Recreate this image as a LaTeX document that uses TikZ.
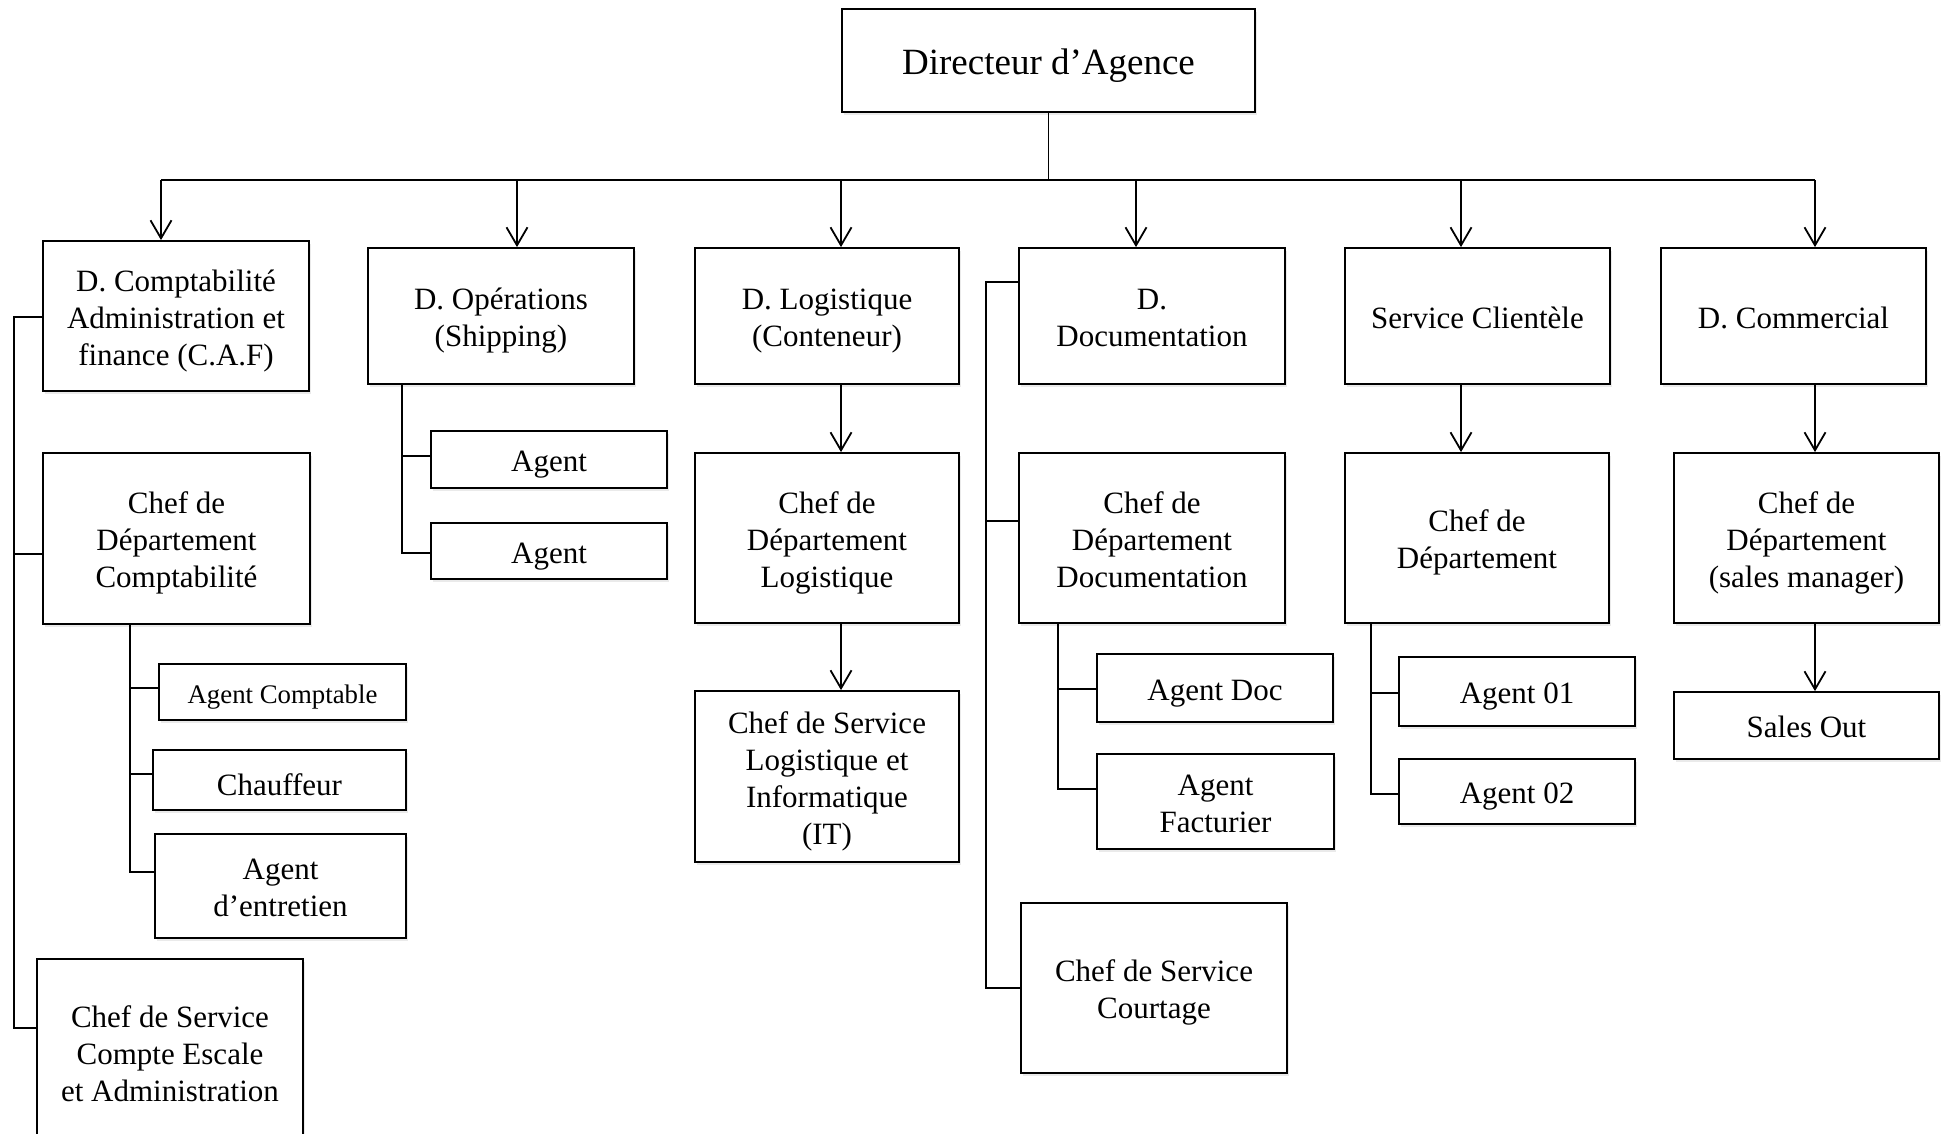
\documentclass[tikz,border=0pt]{standalone}
\usepackage{fontspec}
\setmainfont{Liberation Serif}
\usetikzlibrary{arrows.meta,shadows}
% invisible rules with the font's ascent (plus some lift) and descent, for vertical centring
\newcommand\topstrut[1]{\rule[-0.216em]{0pt}{\dimexpr1.107em+#1\relax}}
\newcommand\botstrut{\rule[-0.216em]{0pt}{1.107em}}
% taller first line for stacked labels
\newcommand\lift{\rule{0pt}{15.7pt}}

\begin{document}
\begin{tikzpicture}[x=0.5pt,y=-0.5pt,
  box/.style={draw, line width=0.9pt, fill=white, inner sep=0pt, align=center,
    font=\fontsize{15.5}{18.5}\selectfont,
    execute at begin node={\topstrut{2pt}}, execute at end node=\botstrut,
    drop shadow={shadow xshift=0.8pt, shadow yshift=-1.3pt, fill=black!16}},
  low/.style={execute at begin node={\topstrut{5pt}}},
  % place a box by its corners (x1,y1) and (x2,y2)
  span/.style n args={4}{at={({(#1+#3)/2},{(#2+#4)/2})},
    minimum width={(#3-#1)*0.5pt}, minimum height={(#4-#2)*0.5pt}},
  link/.style={line width=0.9pt},
  arr/.style={link, -{Straight Barb[length=9pt, width=10.5pt, line width=0.9pt]}}]

\useasboundingbox (0,0) rectangle (1945,1134);
\clip (0,0) rectangle (1945,1134);

% top of the chart
\node[box, span={842}{9}{1255}{112}, font=\fontsize{18.5}{22}\selectfont] (dir) {Directeur d’Agence};

% departments
\node[box, span={43}{241}{309}{391}]    (caf) {\lift D. Comptabilité\\Administration et\\finance (C.A.F)};
\node[box, span={368}{248}{634}{384}]   (ops) {\lift D. Opérations\\(Shipping)};
\node[box, span={695}{248}{959}{384}]   (log) {\lift D. Logistique\\(Conteneur)};
\node[box, span={1019}{248}{1285}{384}] (doc) {\lift D.\\Documentation};
\node[box, span={1345}{248}{1610}{384}] (sc)  {Service Clientèle};
\node[box, span={1661}{248}{1926}{384}] (com) {D. Commercial};

% heads of department
\node[box, span={43}{453}{310}{624}]    (cdc) {\lift Chef de\\Département\\Comptabilité};
\node[box, span={695}{453}{959}{623}]   (cdl) {\lift Chef de\\Département\\Logistique};
\node[box, span={1019}{453}{1285}{623}] (cdd) {\lift Chef de\\Département\\Documentation};
\node[box, span={1345}{453}{1609}{623}] (cds) {\lift Chef de\\Département};
\node[box, span={1674}{453}{1939}{623}] (cdm) {\lift Chef de\\Département\\(sales manager)};

% staff
\node[box, span={431}{431}{667}{488}]   (ag1) {Agent};
\node[box, span={431}{523}{667}{579}]   (ag2) {Agent};
\node[box, span={159}{664}{406}{720}, font=\fontsize{13.4}{16}\selectfont] (acpt) {Agent Comptable};
\node[box, low, span={153}{750}{406}{810}] (chf) {Chauffeur};
\node[box, span={155}{834}{406}{938}]   (ent) {\lift Agent\\d’entretien};
\node[box, span={37}{959}{303}{1145}]   (esc) {\lift Chef de Service\\Compte Escale\\et Administration};
\node[box, span={695}{691}{959}{862}]   (csl) {\lift Chef de Service\\Logistique et\\Informatique\\(IT)};
\node[box, span={1097}{654}{1333}{722}] (adoc) {Agent Doc};
\node[box, span={1097}{754}{1334}{849}] (afac) {\lift Agent\\Facturier};
\node[box, span={1021}{903}{1287}{1073}] (crt) {\lift Chef de Service\\Courtage};
\node[box, span={1399}{657}{1635}{726}] (a01) {Agent 01};
\node[box, span={1399}{759}{1635}{824}] (a02) {Agent 02};
\node[box, span={1674}{692}{1939}{759}] (so)  {Sales Out};

% main bus under the director
\coordinate (busL) at (161,180);
\coordinate (busR) at (1815,180);
\draw[link] (dir.south) -- (dir.south |- busL);
\draw[link] (busL) -- (busR);
\foreach \x/\n in {161/caf,517/ops,841/log,1136/doc,1461/sc,1815/com}{
  \coordinate (t\n) at (\x,180);
  \draw[arr] (t\n) -- (t\n |- \n.north);
}

% vertical chains
\draw[arr] (tlog |- log.south) -- (tlog |- cdl.north);
\draw[arr] (tlog |- cdl.south) -- (tlog |- csl.north);
\draw[arr] (tsc |- sc.south) -- (tsc |- cds.north);
\draw[arr] (tcom |- com.south) -- (tcom |- cdm.north);
\draw[arr] (tcom |- cdm.south) -- (tcom |- so.north);

% accounting branch
\coordinate (ls1) at (14,317);
\coordinate (ls2) at (14,554);
\coordinate (ls3) at (14,1028);
\draw[link] (caf.west |- ls1) -- (ls1) -- (ls3) -- (esc.west |- ls3);
\draw[link] (ls2) -- (cdc.west |- ls2);
\coordinate (cs1) at (130,688);
\coordinate (cs2) at (130,774);
\coordinate (cs3) at (130,872);
\draw[link] (cdc.south -| cs1) -- (cs3) -- (ent.west |- cs3);
\draw[link] (cs1) -- (acpt.west |- cs1);
\draw[link] (cs2) -- (chf.west |- cs2);

% operations branch
\coordinate (os1) at (402,456);
\coordinate (os2) at (402,553);
\draw[link] (ops.south -| os1) -- (os2) -- (ag2.west |- os2);
\draw[link] (os1) -- (ag1.west |- os1);

% documentation branch
\coordinate (ds1) at (986,282);
\coordinate (ds2) at (986,521);
\coordinate (ds3) at (986,988);
\draw[link] (doc.west |- ds1) -- (ds1) -- (ds3) -- (crt.west |- ds3);
\draw[link] (ds2) -- (cdd.west |- ds2);
\coordinate (dd1) at (1058,689);
\coordinate (dd2) at (1058,789);
\draw[link] (cdd.south -| dd1) -- (dd2) -- (afac.west |- dd2);
\draw[link] (dd1) -- (adoc.west |- dd1);

% customer service branch
\coordinate (ss1) at (1371,693);
\coordinate (ss2) at (1371,794);
\draw[link] (cds.south -| ss1) -- (ss2) -- (a02.west |- ss2);
\draw[link] (ss1) -- (a01.west |- ss1);
\end{tikzpicture}
\end{document}
